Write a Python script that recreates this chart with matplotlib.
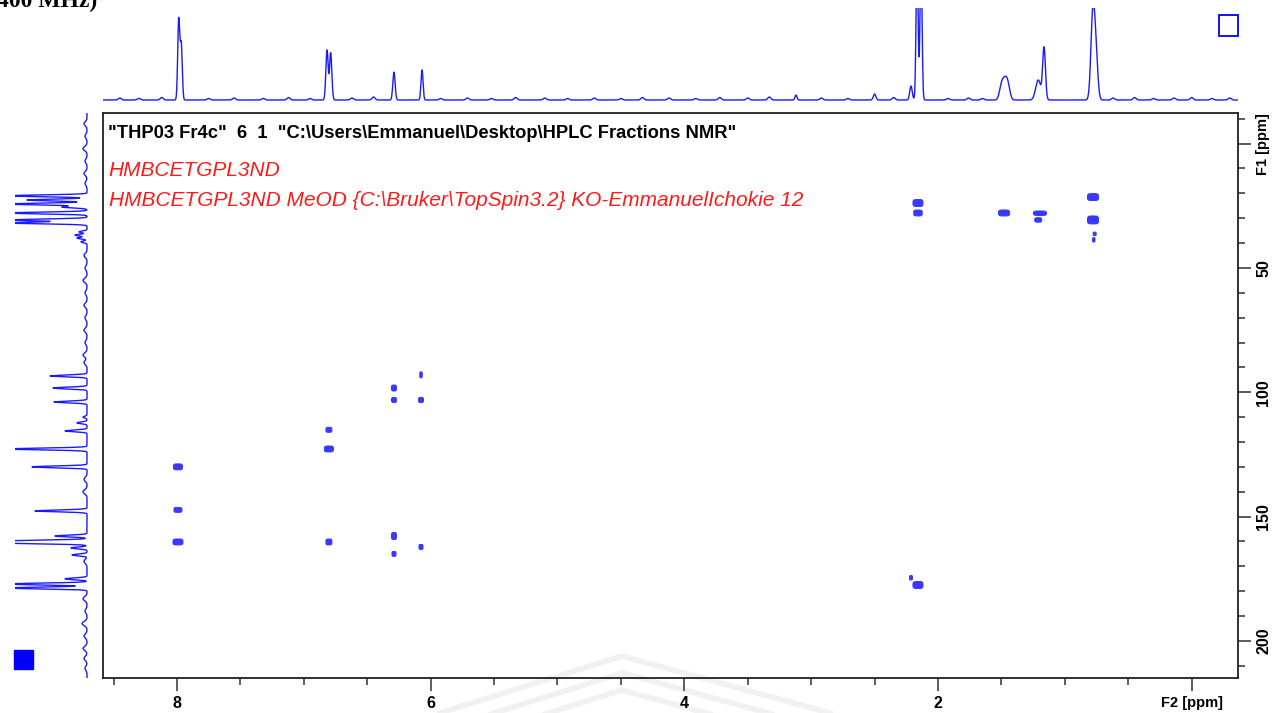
import numpy as np
import matplotlib
matplotlib.use("Agg")
import matplotlib.pyplot as plt
from matplotlib.patches import Rectangle
from matplotlib.lines import Line2D
from matplotlib.ticker import FixedLocator, FixedFormatter

# ---------------- data ----------------
# 1H projection (top trace): position (ppm), intensity, line width (ppm)
h1_ppm = [7.986, 7.966, 6.817, 6.788, 6.289, 6.068, 3.12, 2.50, 2.213,
          2.165, 2.134, 1.500, 1.472, 1.448, 1.210, 1.164, 0.780, 0.756]
h1_int = [80, 55, 50, 47, 28, 30, 5, 6, 14,
          140, 140, 13, 17, 12, 20, 52, 82, 45]
h1_wid = [0.008, 0.008, 0.009, 0.009, 0.009, 0.008, 0.008, 0.01, 0.01,
          0.008, 0.008, 0.016, 0.018, 0.016, 0.020, 0.011, 0.015, 0.015]
# baseline noise bumps of the 1H trace
h1_noise_ppm = [8.45, 8.30, 8.12, 7.75, 7.55, 7.32, 7.12, 6.95, 6.62, 6.45,
                5.92, 5.71, 5.52, 5.33, 5.10, 4.92, 4.71, 4.50, 4.33, 4.12,
                3.91, 3.72, 3.50, 3.33, 2.92, 2.71, 2.35, 1.92, 1.76, 1.65,
                0.62, 0.45, 0.30, 0.14, 0.00, -0.16, -0.30]
h1_noise_int = [2.0, 1.5, 2.5, 1.5, 2.0, 1.5, 2.5, 1.5, 2.0, 3.0,
                1.5, 2.0, 1.5, 2.5, 2.0, 1.5, 2.0, 1.5, 2.5, 2.0,
                1.5, 2.5, 2.0, 3.0, 2.0, 1.5, 2.5, 1.5, 2.0, 1.5,
                2.0, 2.5, 1.5, 2.0, 2.5, 1.5, 2.0]

# 13C projection (left trace): position (ppm), intensity, line width (ppm)
c13_ppm = [21.0, 22.7, 24.3, 25.5, 27.9, 30.7, 31.9, 35.5, 36.8, 38.0, 39.5,
           93.4, 98.3, 103.9, 110.0, 112.3, 115.5, 122.8, 130.0, 147.7,
           157.8, 159.8, 160.6, 162.6, 165.4, 175.0, 177.1, 178.7]
c13_int = [80, 60, 80, 25, 80, 80, 80, 8, 12, 10, 6,
           37, 34, 33, 4, 10, 22, 80, 55, 52,
           32, 80, 80, 16, 15, 22, 80, 80]
c13_wid = [0.35] * len(c13_ppm)
# baseline noise bumps of the 13C trace
c13_noise_ppm = [-8, -3, 2, 7, 12, 16, 45, 50, 55, 60, 65, 70, 75, 80, 85, 88,
                 135, 140, 168, 183, 188, 193, 198, 203, 207, 211]
c13_noise_int = [3, 2, 4, 2, 3, 2, 3, 2, 4, 2, 3, 2, 3, 2, 4, 3,
                 3, 4, 3, 4, 2, 5, 3, 4, 3, 2]

# HMBC cross peaks: F2 (1H ppm), F1 (13C ppm), width (ppm), height (ppm)
xp_f2 = [2.158, 2.158, 1.479, 1.196, 1.210, 0.778, 0.778, 0.765, 0.772,
         6.076, 6.289, 6.289, 6.076, 6.802, 6.802, 7.992, 7.992, 7.992,
         6.802, 6.289, 6.076, 6.289, 2.213, 2.158]
xp_f1 = [23.9, 27.9, 27.9, 28.0, 30.7, 21.5, 30.7, 36.3, 38.7,
         93.0, 98.3, 103.1, 103.1, 115.1, 122.8, 130.0, 147.3, 160.2,
         160.2, 157.8, 162.2, 165.0, 174.6, 177.5]
xp_w = [0.079, 0.067, 0.087, 0.102, 0.055, 0.087, 0.087, 0.024, 0.020,
        0.020, 0.039, 0.039, 0.039, 0.047, 0.071, 0.071, 0.063, 0.079,
        0.047, 0.039, 0.032, 0.032, 0.024, 0.079]
xp_h = [2.8, 2.4, 2.4, 1.8, 1.8, 2.8, 3.2, 1.4, 1.8,
        2.4, 2.4, 2.0, 2.0, 2.0, 2.4, 2.4, 2.0, 2.4,
        2.4, 2.8, 2.0, 2.0, 1.8, 2.8]

x_major = [8, 6, 4, 2, 0]
x_major_labels = ["8", "6", "4", "2", "F2 [ppm]"]
y_major = [0, 50, 100, 150, 200]
y_major_labels = ["F1 [ppm]", "50", "100", "150", "200"]

title_text = '"THP03 Fr4c"  6  1  "C:\\Users\\Emmanuel\\Desktop\\HPLC Fractions NMR"'
red_line1 = "HMBCETGPL3ND"
red_line2 = "HMBCETGPL3ND MeOD {C:\\Bruker\\TopSpin3.2} KO-EmmanuelIchokie 12"

# ---------------- layout ----------------
W, H = 1278, 713
XL = (8.583, -0.365)
YL = (214.9, -12.3)
BLUE = "#1a1aff"
BLOB = "#3838ff"

def rect(x0, y0, x1, y1):
    return [x0 / W, 1 - y1 / H, (x1 - x0) / W, (y1 - y0) / H]

def fx(px):
    return px / W

def fy(py):
    return 1 - py / H

plt.rcParams["font.family"] = ["Liberation Sans", "DejaVu Sans"]
fig = plt.figure(figsize=(W / 100, H / 100), dpi=100)

# faint watermark chevrons (behind everything)
for dy in (0, 17, 34):
    fig.add_artist(Line2D([fx(440), fx(622), fx(830)],
                          [fy(713 + dy), fy(656 + dy), fy(713 + dy)],
                          transform=fig.transFigure, color="#f1f1f1", lw=4,
                          zorder=-5, solid_joinstyle="miter"))

# main 2D axes
ax = fig.add_axes(rect(103, 113, 1238, 678))
ax.patch.set_alpha(0)
ax.set_xlim(*XL)
ax.set_ylim(*YL)

gx = np.linspace(XL[0], XL[1], 2600)
gy = np.linspace(YL[1], YL[0], 1500)
GX, GY = np.meshgrid(gx, gy)
Z = np.zeros_like(GX)
for f2, f1, w, h in zip(xp_f2, xp_f1, xp_w, xp_h):
    sx = (w / 2) / 0.912
    sy = (h / 2) / 0.912
    Z += np.exp(-(((GX - f2) / sx) ** 4 + ((GY - f1) / sy) ** 4))
ax.contourf(GX, GY, Z, levels=[0.5, 1e6], colors=[BLOB], antialiased=True)
ax.contour(GX, GY, Z, levels=[0.5], colors=[BLOB], linewidths=0.7)

for s in ax.spines.values():
    s.set_linewidth(1.3)
    s.set_color("#202020")

ax.yaxis.tick_right()
ax.xaxis.set_major_locator(FixedLocator(x_major))
ax.xaxis.set_major_formatter(FixedFormatter(x_major_labels))
ax.xaxis.set_minor_locator(FixedLocator(np.arange(0, 8.51, 0.5)))
ax.yaxis.set_major_locator(FixedLocator(y_major))
ax.yaxis.set_major_formatter(FixedFormatter(y_major_labels))
ax.yaxis.set_minor_locator(FixedLocator(np.arange(-10, 211, 10)))
ax.tick_params(axis="both", which="major", length=9, width=1.1, color="#303030",
               labelsize=11.5, pad=4)
ax.tick_params(axis="both", which="minor", length=5, width=1.1, color="#303030")
ax.tick_params(axis="y", which="both", left=False, right=True, labelright=True,
               labelleft=False)
for lab in ax.get_xticklabels():
    lab.set_fontweight("bold")
    if "ppm" in lab.get_text():
        lab.set_fontsize(10.5)
for lab in ax.get_yticklabels():
    lab.set_fontweight("bold")
    lab.set_rotation(90)
    lab.set_va("center")
    if "ppm" in lab.get_text():
        lab.set_fontsize(10.5)

ax.text(0.004, 0.963, title_text, transform=ax.transAxes, fontsize=13.2,
        fontweight="bold", color="black", va="center", ha="left")
ax.text(0.005, 0.899, red_line1, transform=ax.transAxes, fontsize=15,
        style="italic", color="#ff1a1a", va="center", ha="left")
ax.text(0.005, 0.846, red_line2, transform=ax.transAxes, fontsize=15,
        style="italic", color="#ff1a1a", va="center", ha="left")

# top 1H projection
axt = fig.add_axes(rect(103, 8, 1238, 105))
xs = np.linspace(XL[0], XL[1], 4000)
top = np.zeros_like(xs)
for p, a, w in zip(h1_ppm, h1_int, h1_wid):
    top += a * np.exp(-0.5 * ((xs - p) / w) ** 2)
for p, a in zip(h1_noise_ppm, h1_noise_int):
    top += a * np.exp(-0.5 * ((xs - p) / 0.012) ** 2)
axt.plot(xs, top, color=BLUE, lw=1.0)
axt.set_xlim(*XL)
axt.set_ylim(-5, 92)
axt.axis("off")

# left 13C projection
axl = fig.add_axes(rect(15, 113, 92, 678))
ys = np.linspace(YL[1], YL[0], 4000)
left = np.zeros_like(ys)
for p, a, w in zip(c13_ppm, c13_int, c13_wid):
    left += a * np.exp(-0.5 * ((ys - p) / w) ** 2)
for p, a in zip(c13_noise_ppm, c13_noise_int):
    left += a * np.exp(-0.5 * ((ys - p) / 0.8) ** 2)
axl.plot(left, ys, color=BLUE, lw=1.0)
axl.set_xlim(72, -5)
axl.set_ylim(*YL)
axl.axis("off")

# decorations
fig.patches.append(Rectangle((fx(1219), fy(36)), 19 / W, 21 / H,
                             transform=fig.transFigure, fill=False,
                             edgecolor="#0000ff", lw=1.3))
fig.patches.append(Rectangle((fx(14), fy(669)), 19 / W, 19 / H,
                             transform=fig.transFigure, fill=True,
                             facecolor="#0000ff", edgecolor="#0000ff"))
fig.text(-0.002, fy(7), "400 MHz)", fontsize=17, fontweight="bold",
         family=["Liberation Serif", "DejaVu Serif"], va="baseline", ha="left")

fig.savefig("out.png", dpi=100)
